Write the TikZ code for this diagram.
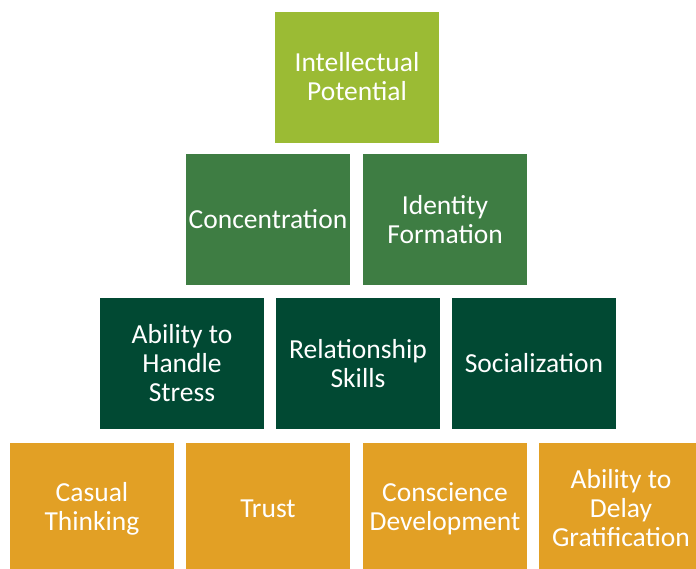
\documentclass[tikz,border=0pt]{standalone}
\usepackage{fontspec}
\setmainfont{Carlito}
\usepackage{tikz}
\usetikzlibrary{positioning}

\definecolor{limegreen}{HTML}{9BBB34}
\definecolor{midgreen}{HTML}{3E7D43}
\definecolor{darkgreen}{HTML}{014933}
\definecolor{goldorange}{HTML}{E2A025}

\begin{document}
\begin{tikzpicture}
    [
      x=1pt, y=-1pt,
      block/.style = {rectangle, minimum width=164pt, minimum height=131pt,
        inner sep=0pt, align=center, text=white,
        font=\fontsize{27.5}{29}\selectfont},
      level one/.style = {block, fill=limegreen},
      level two/.style = {block, fill=midgreen},
      level three/.style = {block, fill=darkgreen},
      level four/.style = {block, fill=goldorange},
    ]
    \useasboundingbox (0,0) rectangle (696,568);
    \clip (0,0) rectangle (696,568);

    % top
    \node[level one] (ip) at (357,77) {Intellectual\\Potential};

    % second row
    \node[level two] (conc) at (268,219.5) {Concentration};
    \node[level two] (idf) at (445,219.5) {Identity\\Formation};

    % third row
    \node[level three] (stress) at (182,363.5) {Ability to\\Handle\\Stress};
    \node[level three] (rel) at (358,363.5) {Relationship\\Skills};
    \node[level three] (soc) at (534,363.5) {Socialization};

    % bottom row
    \node[level four] (caus) at (92,508.5) {Casual\\Thinking};
    \node[level four] (trust) at (268,508.5) {Trust};
    \node[level four] (consc) at (445,508.5) {Conscience\\Development};
    \node[level four] (delay) at (621,508.5) {Ability to\\Delay\\Gratification};
  \end{tikzpicture}
\end{document}
